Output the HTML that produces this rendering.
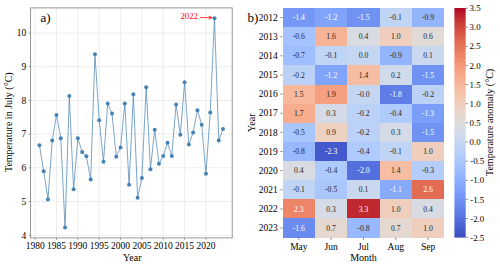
<!DOCTYPE html>
<html><head><meta charset="utf-8"><title>Figure</title><style>html,body{margin:0;padding:0;background:#fff}svg{display:block}</style></head><body>
<svg width="500" height="266" viewBox="0 0 500 266" font-family="Liberation Serif, serif">
<rect width="500" height="266" fill="#fff"/>
<path d="M35.15 7.9V237.9M56.50 7.9V237.9M77.85 7.9V237.9M99.20 7.9V237.9M120.55 7.9V237.9M141.90 7.9V237.9M163.25 7.9V237.9M184.60 7.9V237.9M205.95 7.9V237.9M30.6 235.20H232.2M30.6 201.50H232.2M30.6 167.80H232.2M30.6 134.10H232.2M30.6 100.40H232.2M30.6 66.70H232.2M30.6 33.00H232.2" stroke="#d2d2d2" stroke-width="0.55" stroke-dasharray="1.7 0.8" fill="none"/>
<polyline points="39.42,145.22 43.69,171.17 47.96,199.48 52.23,140.50 56.50,114.89 60.77,138.14 65.04,227.45 69.31,96.02 73.58,189.37 77.85,138.14 82.12,151.96 86.39,156.34 90.66,179.59 94.93,54.23 99.20,120.28 103.47,161.73 107.74,103.43 112.01,113.54 116.28,156.68 120.55,147.58 124.82,103.43 129.09,184.65 133.36,94.33 137.63,197.79 141.90,177.91 146.17,87.26 150.44,169.15 154.71,129.72 158.98,163.76 163.25,156.00 167.52,142.86 171.79,156.00 176.06,104.44 180.33,134.77 184.60,82.20 188.87,144.55 193.14,132.41 197.41,110.17 201.68,124.66 205.95,173.87 210.22,112.53 214.49,18.17 218.76,140.50 223.03,129.04" fill="none" stroke="#4682b4" stroke-width="0.72" stroke-linejoin="round"/>
<circle cx="39.42" cy="145.22" r="2.0" fill="#4682b4"/>
<circle cx="43.69" cy="171.17" r="2.0" fill="#4682b4"/>
<circle cx="47.96" cy="199.48" r="2.0" fill="#4682b4"/>
<circle cx="52.23" cy="140.50" r="2.0" fill="#4682b4"/>
<circle cx="56.50" cy="114.89" r="2.0" fill="#4682b4"/>
<circle cx="60.77" cy="138.14" r="2.0" fill="#4682b4"/>
<circle cx="65.04" cy="227.45" r="2.0" fill="#4682b4"/>
<circle cx="69.31" cy="96.02" r="2.0" fill="#4682b4"/>
<circle cx="73.58" cy="189.37" r="2.0" fill="#4682b4"/>
<circle cx="77.85" cy="138.14" r="2.0" fill="#4682b4"/>
<circle cx="82.12" cy="151.96" r="2.0" fill="#4682b4"/>
<circle cx="86.39" cy="156.34" r="2.0" fill="#4682b4"/>
<circle cx="90.66" cy="179.59" r="2.0" fill="#4682b4"/>
<circle cx="94.93" cy="54.23" r="2.0" fill="#4682b4"/>
<circle cx="99.20" cy="120.28" r="2.0" fill="#4682b4"/>
<circle cx="103.47" cy="161.73" r="2.0" fill="#4682b4"/>
<circle cx="107.74" cy="103.43" r="2.0" fill="#4682b4"/>
<circle cx="112.01" cy="113.54" r="2.0" fill="#4682b4"/>
<circle cx="116.28" cy="156.68" r="2.0" fill="#4682b4"/>
<circle cx="120.55" cy="147.58" r="2.0" fill="#4682b4"/>
<circle cx="124.82" cy="103.43" r="2.0" fill="#4682b4"/>
<circle cx="129.09" cy="184.65" r="2.0" fill="#4682b4"/>
<circle cx="133.36" cy="94.33" r="2.0" fill="#4682b4"/>
<circle cx="137.63" cy="197.79" r="2.0" fill="#4682b4"/>
<circle cx="141.90" cy="177.91" r="2.0" fill="#4682b4"/>
<circle cx="146.17" cy="87.26" r="2.0" fill="#4682b4"/>
<circle cx="150.44" cy="169.15" r="2.0" fill="#4682b4"/>
<circle cx="154.71" cy="129.72" r="2.0" fill="#4682b4"/>
<circle cx="158.98" cy="163.76" r="2.0" fill="#4682b4"/>
<circle cx="163.25" cy="156.00" r="2.0" fill="#4682b4"/>
<circle cx="167.52" cy="142.86" r="2.0" fill="#4682b4"/>
<circle cx="171.79" cy="156.00" r="2.0" fill="#4682b4"/>
<circle cx="176.06" cy="104.44" r="2.0" fill="#4682b4"/>
<circle cx="180.33" cy="134.77" r="2.0" fill="#4682b4"/>
<circle cx="184.60" cy="82.20" r="2.0" fill="#4682b4"/>
<circle cx="188.87" cy="144.55" r="2.0" fill="#4682b4"/>
<circle cx="193.14" cy="132.41" r="2.0" fill="#4682b4"/>
<circle cx="197.41" cy="110.17" r="2.0" fill="#4682b4"/>
<circle cx="201.68" cy="124.66" r="2.0" fill="#4682b4"/>
<circle cx="205.95" cy="173.87" r="2.0" fill="#4682b4"/>
<circle cx="210.22" cy="112.53" r="2.0" fill="#4682b4"/>
<circle cx="214.49" cy="18.17" r="2.0" fill="#4682b4"/>
<circle cx="218.76" cy="140.50" r="2.0" fill="#4682b4"/>
<circle cx="223.03" cy="129.04" r="2.0" fill="#4682b4"/>
<rect x="30.6" y="7.9" width="201.60" height="230.00" fill="none" stroke="#858585" stroke-width="0.85"/>
<path d="M35.15 237.9v2.0M56.50 237.9v2.0M77.85 237.9v2.0M99.20 237.9v2.0M120.55 237.9v2.0M141.90 237.9v2.0M163.25 237.9v2.0M184.60 237.9v2.0M205.95 237.9v2.0M30.6 235.20h-2.0M30.6 201.50h-2.0M30.6 167.80h-2.0M30.6 134.10h-2.0M30.6 100.40h-2.0M30.6 66.70h-2.0M30.6 33.00h-2.0" stroke="#7c7c7c" stroke-width="0.7" fill="none"/>
<text x="35.15" y="249.2" font-size="9.5" text-anchor="middle" fill="#000">1980</text>
<text x="56.50" y="249.2" font-size="9.5" text-anchor="middle" fill="#000">1985</text>
<text x="77.85" y="249.2" font-size="9.5" text-anchor="middle" fill="#000">1990</text>
<text x="99.20" y="249.2" font-size="9.5" text-anchor="middle" fill="#000">1995</text>
<text x="120.55" y="249.2" font-size="9.5" text-anchor="middle" fill="#000">2000</text>
<text x="141.90" y="249.2" font-size="9.5" text-anchor="middle" fill="#000">2005</text>
<text x="163.25" y="249.2" font-size="9.5" text-anchor="middle" fill="#000">2010</text>
<text x="184.60" y="249.2" font-size="9.5" text-anchor="middle" fill="#000">2015</text>
<text x="205.95" y="249.2" font-size="9.5" text-anchor="middle" fill="#000">2020</text>
<text x="26.2" y="238.50" font-size="9.5" text-anchor="end" fill="#000">4</text>
<text x="26.2" y="204.80" font-size="9.5" text-anchor="end" fill="#000">5</text>
<text x="26.2" y="171.10" font-size="9.5" text-anchor="end" fill="#000">6</text>
<text x="26.2" y="137.40" font-size="9.5" text-anchor="end" fill="#000">7</text>
<text x="26.2" y="103.70" font-size="9.5" text-anchor="end" fill="#000">8</text>
<text x="26.2" y="70.00" font-size="9.5" text-anchor="end" fill="#000">9</text>
<text x="26.2" y="36.30" font-size="9.5" text-anchor="end" fill="#000">10</text>
<text x="132.3" y="261.2" font-size="10" text-anchor="middle" fill="#000">Year</text>
<text transform="translate(12.0 122.2) rotate(-90)" font-size="10" text-anchor="middle" fill="#000">Temperature in July (°C)</text>
<text x="40.6" y="22.1" font-size="13" fill="#000">a)</text>
<text x="180.5" y="19.1" font-size="8.7" fill="#f00">2022</text>
<path d="M199.8 17.6H212M208.6 16.1L212.2 17.6L208.6 19.2" stroke="#f00" stroke-width="0.75" fill="none"/>
<g shape-rendering="crispEdges">
<rect x="282.70" y="8.00" width="32.60" height="19.43" fill="#7597f6"/>
<rect x="315.00" y="8.00" width="32.60" height="19.43" fill="#81a4fb"/>
<rect x="347.30" y="8.00" width="32.60" height="19.43" fill="#6f92f3"/>
<rect x="379.60" y="8.00" width="32.60" height="19.43" fill="#c0d4f5"/>
<rect x="411.90" y="8.00" width="32.30" height="19.43" fill="#93b5fe"/>
<rect x="282.70" y="27.13" width="32.60" height="19.43" fill="#a5c3fe"/>
<rect x="315.00" y="27.13" width="32.60" height="19.43" fill="#f7b396"/>
<rect x="347.30" y="27.13" width="32.60" height="19.43" fill="#d8dce2"/>
<rect x="379.60" y="27.13" width="32.60" height="19.43" fill="#efcebd"/>
<rect x="411.90" y="27.13" width="32.30" height="19.43" fill="#e1dad6"/>
<rect x="282.70" y="46.27" width="32.60" height="19.43" fill="#9ebeff"/>
<rect x="315.00" y="46.27" width="32.60" height="19.43" fill="#c0d4f5"/>
<rect x="347.30" y="46.27" width="32.60" height="19.43" fill="#c5d6f2"/>
<rect x="379.60" y="46.27" width="32.60" height="19.43" fill="#93b5fe"/>
<rect x="411.90" y="46.27" width="32.30" height="19.43" fill="#cad8ef"/>
<rect x="282.70" y="65.40" width="32.60" height="19.43" fill="#bbd1f8"/>
<rect x="315.00" y="65.40" width="32.60" height="19.43" fill="#81a4fb"/>
<rect x="347.30" y="65.40" width="32.60" height="19.43" fill="#f6bda2"/>
<rect x="379.60" y="65.40" width="32.60" height="19.43" fill="#cfdaea"/>
<rect x="411.90" y="65.40" width="32.30" height="19.43" fill="#6f92f3"/>
<rect x="282.70" y="84.53" width="32.60" height="19.43" fill="#f7b89c"/>
<rect x="315.00" y="84.53" width="32.60" height="19.43" fill="#f5a081"/>
<rect x="347.30" y="84.53" width="32.60" height="19.43" fill="#c5d6f2"/>
<rect x="379.60" y="84.53" width="32.60" height="19.43" fill="#5e7de7"/>
<rect x="411.90" y="84.53" width="32.30" height="19.43" fill="#bbd1f8"/>
<rect x="282.70" y="103.67" width="32.60" height="19.43" fill="#f7ac8e"/>
<rect x="315.00" y="103.67" width="32.60" height="19.43" fill="#d4dbe6"/>
<rect x="347.30" y="103.67" width="32.60" height="19.43" fill="#bbd1f8"/>
<rect x="379.60" y="103.67" width="32.60" height="19.43" fill="#afcafc"/>
<rect x="411.90" y="103.67" width="32.30" height="19.43" fill="#7b9ff9"/>
<rect x="282.70" y="122.80" width="32.60" height="19.43" fill="#aac7fd"/>
<rect x="315.00" y="122.80" width="32.60" height="19.43" fill="#edd2c3"/>
<rect x="347.30" y="122.80" width="32.60" height="19.43" fill="#bbd1f8"/>
<rect x="379.60" y="122.80" width="32.60" height="19.43" fill="#d4dbe6"/>
<rect x="411.90" y="122.80" width="32.30" height="19.43" fill="#6f92f3"/>
<rect x="282.70" y="141.93" width="32.60" height="19.43" fill="#98b9ff"/>
<rect x="315.00" y="141.93" width="32.60" height="19.43" fill="#445acc"/>
<rect x="347.30" y="141.93" width="32.60" height="19.43" fill="#afcafc"/>
<rect x="379.60" y="141.93" width="32.60" height="19.43" fill="#c0d4f5"/>
<rect x="411.90" y="141.93" width="32.30" height="19.43" fill="#efcebd"/>
<rect x="282.70" y="161.07" width="32.60" height="19.43" fill="#d8dce2"/>
<rect x="315.00" y="161.07" width="32.60" height="19.43" fill="#afcafc"/>
<rect x="347.30" y="161.07" width="32.60" height="19.43" fill="#5470de"/>
<rect x="379.60" y="161.07" width="32.60" height="19.43" fill="#f6bda2"/>
<rect x="411.90" y="161.07" width="32.30" height="19.43" fill="#b5cdfa"/>
<rect x="282.70" y="180.20" width="32.60" height="19.43" fill="#c0d4f5"/>
<rect x="315.00" y="180.20" width="32.60" height="19.43" fill="#aac7fd"/>
<rect x="347.30" y="180.20" width="32.60" height="19.43" fill="#cad8ef"/>
<rect x="379.60" y="180.20" width="32.60" height="19.43" fill="#86a9fc"/>
<rect x="411.90" y="180.20" width="32.30" height="19.43" fill="#e36c55"/>
<rect x="282.70" y="199.33" width="32.60" height="19.43" fill="#ee8468"/>
<rect x="315.00" y="199.33" width="32.60" height="19.43" fill="#d4dbe6"/>
<rect x="347.30" y="199.33" width="32.60" height="19.43" fill="#c0282f"/>
<rect x="379.60" y="199.33" width="32.60" height="19.43" fill="#efcebd"/>
<rect x="411.90" y="199.33" width="32.30" height="19.43" fill="#d8dce2"/>
<rect x="282.70" y="218.47" width="32.60" height="19.13" fill="#6a8bef"/>
<rect x="315.00" y="218.47" width="32.60" height="19.13" fill="#e5d8d1"/>
<rect x="347.30" y="218.47" width="32.60" height="19.13" fill="#98b9ff"/>
<rect x="379.60" y="218.47" width="32.60" height="19.13" fill="#e5d8d1"/>
<rect x="411.90" y="218.47" width="32.30" height="19.13" fill="#efcebd"/>
</g>
<text x="298.85" y="20.17" font-size="7.7" text-anchor="middle" fill="#fff">-1.4</text>
<text x="331.15" y="20.17" font-size="7.7" text-anchor="middle" fill="#fff">-1.2</text>
<text x="363.45" y="20.17" font-size="7.7" text-anchor="middle" fill="#fff">-1.5</text>
<text x="395.75" y="20.17" font-size="7.7" text-anchor="middle" fill="#262626">-0.1</text>
<text x="428.05" y="20.17" font-size="7.7" text-anchor="middle" fill="#262626">-0.9</text>
<text x="298.85" y="39.30" font-size="7.7" text-anchor="middle" fill="#262626">-0.6</text>
<text x="331.15" y="39.30" font-size="7.7" text-anchor="middle" fill="#262626">1.6</text>
<text x="363.45" y="39.30" font-size="7.7" text-anchor="middle" fill="#262626">0.4</text>
<text x="395.75" y="39.30" font-size="7.7" text-anchor="middle" fill="#262626">1.0</text>
<text x="428.05" y="39.30" font-size="7.7" text-anchor="middle" fill="#262626">0.6</text>
<text x="298.85" y="58.43" font-size="7.7" text-anchor="middle" fill="#262626">-0.7</text>
<text x="331.15" y="58.43" font-size="7.7" text-anchor="middle" fill="#262626">-0.1</text>
<text x="363.45" y="58.43" font-size="7.7" text-anchor="middle" fill="#262626">0.0</text>
<text x="395.75" y="58.43" font-size="7.7" text-anchor="middle" fill="#262626">-0.9</text>
<text x="428.05" y="58.43" font-size="7.7" text-anchor="middle" fill="#262626">0.1</text>
<text x="298.85" y="77.57" font-size="7.7" text-anchor="middle" fill="#262626">-0.2</text>
<text x="331.15" y="77.57" font-size="7.7" text-anchor="middle" fill="#fff">-1.2</text>
<text x="363.45" y="77.57" font-size="7.7" text-anchor="middle" fill="#262626">1.4</text>
<text x="395.75" y="77.57" font-size="7.7" text-anchor="middle" fill="#262626">0.2</text>
<text x="428.05" y="77.57" font-size="7.7" text-anchor="middle" fill="#fff">-1.5</text>
<text x="298.85" y="96.70" font-size="7.7" text-anchor="middle" fill="#262626">1.5</text>
<text x="331.15" y="96.70" font-size="7.7" text-anchor="middle" fill="#262626">1.9</text>
<text x="363.45" y="96.70" font-size="7.7" text-anchor="middle" fill="#262626">-0.0</text>
<text x="395.75" y="96.70" font-size="7.7" text-anchor="middle" fill="#fff">-1.8</text>
<text x="428.05" y="96.70" font-size="7.7" text-anchor="middle" fill="#262626">-0.2</text>
<text x="298.85" y="115.83" font-size="7.7" text-anchor="middle" fill="#262626">1.7</text>
<text x="331.15" y="115.83" font-size="7.7" text-anchor="middle" fill="#262626">0.3</text>
<text x="363.45" y="115.83" font-size="7.7" text-anchor="middle" fill="#262626">-0.2</text>
<text x="395.75" y="115.83" font-size="7.7" text-anchor="middle" fill="#262626">-0.4</text>
<text x="428.05" y="115.83" font-size="7.7" text-anchor="middle" fill="#fff">-1.3</text>
<text x="298.85" y="134.97" font-size="7.7" text-anchor="middle" fill="#262626">-0.5</text>
<text x="331.15" y="134.97" font-size="7.7" text-anchor="middle" fill="#262626">0.9</text>
<text x="363.45" y="134.97" font-size="7.7" text-anchor="middle" fill="#262626">-0.2</text>
<text x="395.75" y="134.97" font-size="7.7" text-anchor="middle" fill="#262626">0.3</text>
<text x="428.05" y="134.97" font-size="7.7" text-anchor="middle" fill="#fff">-1.5</text>
<text x="298.85" y="154.10" font-size="7.7" text-anchor="middle" fill="#262626">-0.8</text>
<text x="331.15" y="154.10" font-size="7.7" text-anchor="middle" fill="#fff">-2.3</text>
<text x="363.45" y="154.10" font-size="7.7" text-anchor="middle" fill="#262626">-0.4</text>
<text x="395.75" y="154.10" font-size="7.7" text-anchor="middle" fill="#262626">-0.1</text>
<text x="428.05" y="154.10" font-size="7.7" text-anchor="middle" fill="#262626">1.0</text>
<text x="298.85" y="173.23" font-size="7.7" text-anchor="middle" fill="#262626">0.4</text>
<text x="331.15" y="173.23" font-size="7.7" text-anchor="middle" fill="#262626">-0.4</text>
<text x="363.45" y="173.23" font-size="7.7" text-anchor="middle" fill="#fff">-2.0</text>
<text x="395.75" y="173.23" font-size="7.7" text-anchor="middle" fill="#262626">1.4</text>
<text x="428.05" y="173.23" font-size="7.7" text-anchor="middle" fill="#262626">-0.3</text>
<text x="298.85" y="192.37" font-size="7.7" text-anchor="middle" fill="#262626">-0.1</text>
<text x="331.15" y="192.37" font-size="7.7" text-anchor="middle" fill="#262626">-0.5</text>
<text x="363.45" y="192.37" font-size="7.7" text-anchor="middle" fill="#262626">0.1</text>
<text x="395.75" y="192.37" font-size="7.7" text-anchor="middle" fill="#fff">-1.1</text>
<text x="428.05" y="192.37" font-size="7.7" text-anchor="middle" fill="#fff">2.6</text>
<text x="298.85" y="211.50" font-size="7.7" text-anchor="middle" fill="#fff">2.3</text>
<text x="331.15" y="211.50" font-size="7.7" text-anchor="middle" fill="#262626">0.3</text>
<text x="363.45" y="211.50" font-size="7.7" text-anchor="middle" fill="#fff">3.3</text>
<text x="395.75" y="211.50" font-size="7.7" text-anchor="middle" fill="#262626">1.0</text>
<text x="428.05" y="211.50" font-size="7.7" text-anchor="middle" fill="#262626">0.4</text>
<text x="298.85" y="230.63" font-size="7.7" text-anchor="middle" fill="#fff">-1.6</text>
<text x="331.15" y="230.63" font-size="7.7" text-anchor="middle" fill="#262626">0.7</text>
<text x="363.45" y="230.63" font-size="7.7" text-anchor="middle" fill="#262626">-0.8</text>
<text x="395.75" y="230.63" font-size="7.7" text-anchor="middle" fill="#262626">0.7</text>
<text x="428.05" y="230.63" font-size="7.7" text-anchor="middle" fill="#262626">1.0</text>
<text x="277.8" y="20.77" font-size="9.5" text-anchor="end" fill="#000">2012</text>
<text x="277.8" y="39.90" font-size="9.5" text-anchor="end" fill="#000">2013</text>
<text x="277.8" y="59.03" font-size="9.5" text-anchor="end" fill="#000">2014</text>
<text x="277.8" y="78.17" font-size="9.5" text-anchor="end" fill="#000">2015</text>
<text x="277.8" y="97.30" font-size="9.5" text-anchor="end" fill="#000">2016</text>
<text x="277.8" y="116.43" font-size="9.5" text-anchor="end" fill="#000">2017</text>
<text x="277.8" y="135.57" font-size="9.5" text-anchor="end" fill="#000">2018</text>
<text x="277.8" y="154.70" font-size="9.5" text-anchor="end" fill="#000">2019</text>
<text x="277.8" y="173.83" font-size="9.5" text-anchor="end" fill="#000">2020</text>
<text x="277.8" y="192.97" font-size="9.5" text-anchor="end" fill="#000">2021</text>
<text x="277.8" y="212.10" font-size="9.5" text-anchor="end" fill="#000">2022</text>
<text x="277.8" y="231.23" font-size="9.5" text-anchor="end" fill="#000">2023</text>
<text x="298.85" y="249.5" font-size="9.5" text-anchor="middle" fill="#000">May</text>
<text x="331.15" y="249.5" font-size="9.5" text-anchor="middle" fill="#000">Jun</text>
<text x="363.45" y="249.5" font-size="9.5" text-anchor="middle" fill="#000">Jul</text>
<text x="395.75" y="249.5" font-size="9.5" text-anchor="middle" fill="#000">Aug</text>
<text x="428.05" y="249.5" font-size="9.5" text-anchor="middle" fill="#000">Sep</text>
<path d="M282.7 17.57h-2.4M282.7 36.70h-2.4M282.7 55.83h-2.4M282.7 74.97h-2.4M282.7 94.10h-2.4M282.7 113.23h-2.4M282.7 132.37h-2.4M282.7 151.50h-2.4M282.7 170.63h-2.4M282.7 189.77h-2.4M282.7 208.90h-2.4M282.7 228.03h-2.4M298.85 237.6v2.4M331.15 237.6v2.4M363.45 237.6v2.4M395.75 237.6v2.4M428.05 237.6v2.4" stroke="#444" stroke-width="0.6" fill="none"/>
<text x="363.5" y="261.2" font-size="10" text-anchor="middle" fill="#000">Month</text>
<text transform="translate(254.6 122.7) rotate(-90)" font-size="10" text-anchor="middle" fill="#000">Year</text>
<text x="247.4" y="22.4" font-size="13" fill="#000">b)</text>
<defs><linearGradient id="cb" x1="0" y1="0" x2="0" y2="1"><stop offset="0.0000" stop-color="#b40426"/><stop offset="0.0156" stop-color="#b8122a"/><stop offset="0.0312" stop-color="#be242e"/><stop offset="0.0469" stop-color="#c43032"/><stop offset="0.0625" stop-color="#ca3b37"/><stop offset="0.0781" stop-color="#cf453c"/><stop offset="0.0938" stop-color="#d44e41"/><stop offset="0.1094" stop-color="#d85646"/><stop offset="0.1250" stop-color="#dd5f4b"/><stop offset="0.1406" stop-color="#e16751"/><stop offset="0.1562" stop-color="#e46e56"/><stop offset="0.1719" stop-color="#e8765c"/><stop offset="0.1875" stop-color="#eb7d62"/><stop offset="0.2031" stop-color="#ee8468"/><stop offset="0.2188" stop-color="#f08b6e"/><stop offset="0.2344" stop-color="#f29274"/><stop offset="0.2500" stop-color="#f4987a"/><stop offset="0.2656" stop-color="#f59f80"/><stop offset="0.2812" stop-color="#f6a586"/><stop offset="0.2969" stop-color="#f7aa8c"/><stop offset="0.3125" stop-color="#f7b093"/><stop offset="0.3281" stop-color="#f7b599"/><stop offset="0.3438" stop-color="#f7ba9f"/><stop offset="0.3594" stop-color="#f6bfa6"/><stop offset="0.3750" stop-color="#f5c4ac"/><stop offset="0.3906" stop-color="#f3c8b2"/><stop offset="0.4062" stop-color="#f1ccb8"/><stop offset="0.4219" stop-color="#efcfbf"/><stop offset="0.4375" stop-color="#ecd3c5"/><stop offset="0.4531" stop-color="#e9d5cb"/><stop offset="0.4688" stop-color="#e5d8d1"/><stop offset="0.4844" stop-color="#e1dad6"/><stop offset="0.5000" stop-color="#dddcdc"/><stop offset="0.5156" stop-color="#d9dce1"/><stop offset="0.5312" stop-color="#d5dbe5"/><stop offset="0.5469" stop-color="#d1dae9"/><stop offset="0.5625" stop-color="#ccd9ed"/><stop offset="0.5781" stop-color="#c7d7f0"/><stop offset="0.5938" stop-color="#c3d5f4"/><stop offset="0.6094" stop-color="#bed2f6"/><stop offset="0.6250" stop-color="#b9d0f9"/><stop offset="0.6406" stop-color="#b3cdfb"/><stop offset="0.6562" stop-color="#aec9fc"/><stop offset="0.6719" stop-color="#a9c6fd"/><stop offset="0.6875" stop-color="#a3c2fe"/><stop offset="0.7031" stop-color="#9ebeff"/><stop offset="0.7188" stop-color="#98b9ff"/><stop offset="0.7344" stop-color="#93b5fe"/><stop offset="0.7500" stop-color="#8db0fe"/><stop offset="0.7656" stop-color="#88abfd"/><stop offset="0.7812" stop-color="#82a6fb"/><stop offset="0.7969" stop-color="#7da0f9"/><stop offset="0.8125" stop-color="#779af7"/><stop offset="0.8281" stop-color="#7295f4"/><stop offset="0.8438" stop-color="#6c8ff1"/><stop offset="0.8594" stop-color="#6788ee"/><stop offset="0.8750" stop-color="#6282ea"/><stop offset="0.8906" stop-color="#5d7ce6"/><stop offset="0.9062" stop-color="#5875e1"/><stop offset="0.9219" stop-color="#536edd"/><stop offset="0.9375" stop-color="#4e68d8"/><stop offset="0.9531" stop-color="#4961d2"/><stop offset="0.9688" stop-color="#445acc"/><stop offset="0.9844" stop-color="#3f53c6"/><stop offset="1.0000" stop-color="#3b4cc0"/></linearGradient></defs>
<rect x="454.4" y="8.0" width="11.30" height="229.60" fill="url(#cb)"/>
<text x="470.2" y="240.80" font-size="8.9" fill="#000">-2.5</text>
<text x="470.2" y="221.67" font-size="8.9" fill="#000">-2.0</text>
<text x="470.2" y="202.53" font-size="8.9" fill="#000">-1.5</text>
<text x="470.2" y="183.40" font-size="8.9" fill="#000">-1.0</text>
<text x="470.2" y="164.27" font-size="8.9" fill="#000">-0.5</text>
<text x="469.6" y="145.13" font-size="8.9" fill="#000">0.0</text>
<text x="469.6" y="126.00" font-size="8.9" fill="#000">0.5</text>
<text x="469.6" y="106.87" font-size="8.9" fill="#000">1.0</text>
<text x="469.6" y="87.73" font-size="8.9" fill="#000">1.5</text>
<text x="469.6" y="68.60" font-size="8.9" fill="#000">2.0</text>
<text x="469.6" y="49.47" font-size="8.9" fill="#000">2.5</text>
<text x="469.6" y="30.33" font-size="8.9" fill="#000">3.0</text>
<text x="469.6" y="11.20" font-size="8.9" fill="#000">3.5</text>
<path d="M465.7 237.30h2.2M465.7 218.47h2.2M465.7 199.33h2.2M465.7 180.20h2.2M465.7 161.07h2.2M465.7 141.93h2.2M465.7 122.80h2.2M465.7 103.67h2.2M465.7 84.53h2.2M465.7 65.40h2.2M465.7 46.27h2.2M465.7 27.13h2.2M465.7 8.30h2.2" stroke="#444" stroke-width="0.6" fill="none"/>
<text transform="translate(493.3 122.4) rotate(-90)" font-size="10" text-anchor="middle" fill="#000">Temperature anomaly (°C)</text>
</svg>
</body></html>
